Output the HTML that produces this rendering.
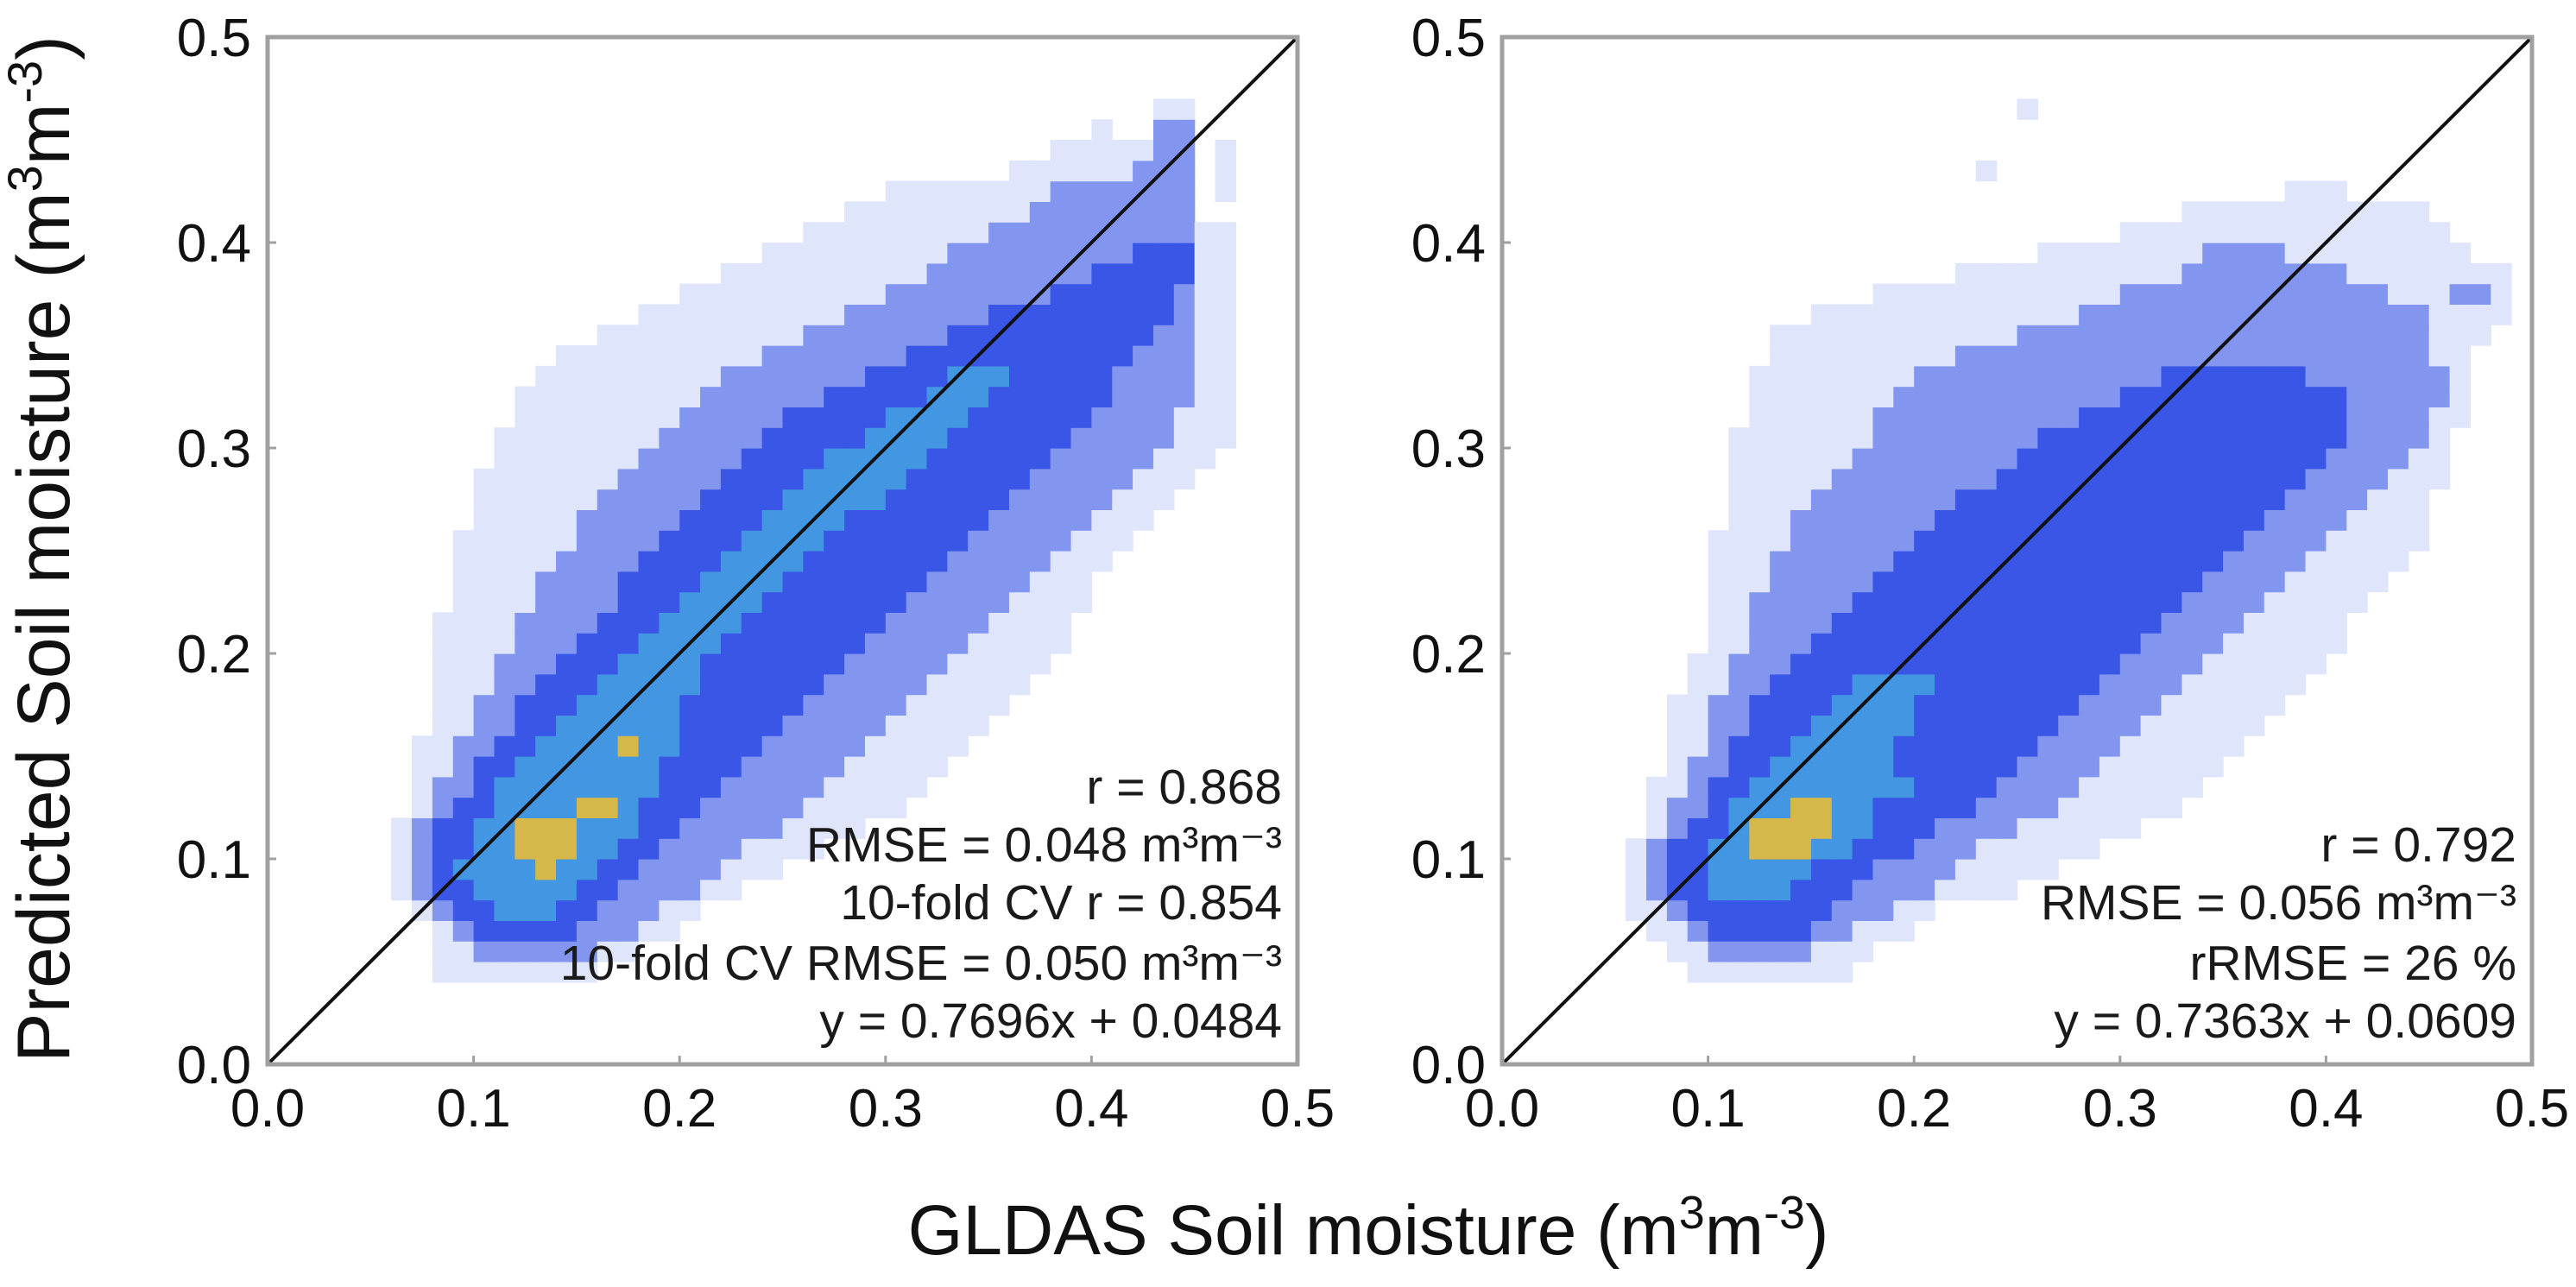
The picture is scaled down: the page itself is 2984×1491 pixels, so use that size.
<!DOCTYPE html>
<html><head><meta charset="utf-8"><style>
html,body{margin:0;padding:0;background:#fff;}
svg{display:block;font-family:"Liberation Sans",Arial,sans-serif;}
</style></head><body>
<svg id="fig" width="2984" height="1491" viewBox="0 0 2984 1491">
<rect width="2984" height="1491" fill="#fff"/>
<g id="panels"></g>
<text x="80" y="636" transform="rotate(-90 80 636)" text-anchor="middle" font-size="86" fill="#111">Predicted Soil moisture (m<tspan font-size="56" dy="-32">3</tspan><tspan dy="32">m</tspan><tspan font-size="56" dy="-32">-3</tspan><tspan dy="32">)</tspan></text>
<text x="1585" y="1453" text-anchor="middle" font-size="82" fill="#111">GLDAS Soil moisture (m<tspan font-size="54" dy="-30">3</tspan><tspan dy="30">m</tspan><tspan font-size="54" dy="-30">-3</tspan><tspan dy="30">)</tspan></text>
</svg>
<script>
// ---- data ----
const tickValues = [0.0, 0.1, 0.2, 0.3, 0.4, 0.5];
const tickLabels = ["0.0", "0.1", "0.2", "0.3", "0.4", "0.5"];
const densityColors = ["none", "#dfe5fa", "#8296ef", "#3a56e6", "#4296e2", "#d6b84a"];
// density rows: y-bin index (0.01 units) -> segments "x0-x1:level" (x bins of 0.01)
const leftDensity = {
 46:"43-44:1",45:"40:1,43-44:2",44:"38-42:1,46:1,43-44:2",43:"36-44:1,46:1,42-44:2",
 42:"30-44:1,46:1,38-44:2",41:"28-44:1,37-44:2",40:"26-46:1,35-44:2",
 39:"24-46:1,33-44:2,42-44:3",38:"22-46:1,32-44:2,40-44:3",37:"20-46:1,30-44:2,38-43:3",
 36:"18-46:1,28-44:2,35-43:3",35:"16-46:1,26-44:2,33-42:3",34:"14-46:1,24-44:2,31-41:3",
 33:"13-46:1,22-44:2,29-40:3,33-35:4",32:"12-46:1,21-44:2,27-40:3,32-34:4",
 31:"12-46:1,20-43:2,25-39:3,30-33:4",30:"11-46:1,19-43:2,24-38:3,29-32:4",
 29:"11-45:1,18-42:2,23-37:3,27-31:4",28:"10-44:1,17-41:2,22-36:3,26-30:4",
 27:"10-43:1,16-40:2,21-35:3,25-29:4",26:"10-42:1,15-39:2,20-34:3,24-27:4",
 25:"9-41:1,15-38:2,19-33:3,23-26:4",24:"9-40:1,14-37:2,18-32:3,22-25:4",
 23:"9-39:1,13-36:2,17-31:3,21-24:4",22:"9-39:1,13-35:2,17-30:3,20-23:4",
 21:"8-38:1,12-34:2,16-29:3,19-22:4",20:"8-38:1,12-33:2,15-28:3,18-21:4",
 19:"8-37:1,11-32:2,14-27:3,17-20:4",18:"8-36:1,11-31:2,13-26:3,16-20:4",
 17:"8-35:1,10-30:2,12-25:3,15-19:4",16:"8-34:1,10-29:2,12-24:3,14-19:4",
 15:"7-33:1,9-28:2,11-23:3,13-19:4,17:5",14:"7-32:1,9-27:2,10-22:3,12-18:4",
 13:"7-31:1,8-26:2,10-21:3,11-18:4",12:"7-30:1,8-25:2,9-20:3,11-17:4,15-16:5",
 11:"6-28:1,7-24:2,8-19:3,10-17:4,12-14:5",10:"6-26:1,7-22:2,8-18:3,10-16:4,12-14:5",
 9:"6-24:1,7-21:2,8-17:3,9-15:4,13:5",8:"6-22:1,7-20:2,8-16:3,10-14:4",
 7:"7-20:1,8-18:2,9-15:3,11-13:4",6:"8-19:1,9-17:2,10-14:3",5:"8-17:1,10-15:2",4:"8-15:1"
};
const rightDensity = {
 46:"25:1",43:"23:1",42:"38-40:1",41:"33-44:1",40:"30-45:1",39:"26-46:1,34-37:2",
 38:"22-48:1,33-40:2",37:"18-48:1,30-42:2,46-47:2",36:"15-48:1,28-44:2",
 35:"13-47:1,25-44:2",34:"13-46:1,22-44:2",33:"12-46:1,20-45:2,32-38:3",
 32:"12-46:1,19-45:2,30-40:3",31:"12-46:1,18-44:2,28-40:3",
 30:"11-45:1,18-44:2,26-40:3",29:"11-45:1,17-43:2,25-39:3",
 28:"11-45:1,16-42:2,24-38:3",27:"11-44:1,15-41:2,22-37:3",
 26:"11-44:1,14-40:2,21-36:3",25:"10-44:1,14-39:2,20-35:3",
 24:"10-43:1,13-38:2,19-34:3",23:"10-42:1,13-37:2,18-33:3",
 22:"10-41:1,12-36:2,17-32:3",21:"10-40:1,12-35:2,16-31:3",20:"10-40:1,12-34:2,15-30:3",
 19:"9-39:1,11-33:2,14-29:3",18:"9-38:1,11-32:2,13-28:3,17-20:4",
 17:"8-37:1,10-31:2,12-27:3,16-19:4",16:"8-36:1,10-30:2,12-26:3,15-19:4",
 15:"8-35:1,10-29:2,11-25:3,14-18:4",14:"8-34:1,9-28:2,11-24:3,13-18:4",
 13:"7-33:1,9-27:2,10-23:3,12-17:4,18-19:4",12:"7-32:1,8-26:2,10-22:3,11-17:4,14-15:5",
 11:"7-30:1,8-24:2,9-20:3,11-17:4,12-15:5",10:"6-28:1,7-22:2,8-19:3,10-16:4,12-14:5",
 9:"6-26:1,7-21:2,8-17:3,10-14:4",8:"6-24:1,7-20:2,8-16:3,10-13:4",
 7:"6-20:1,8-18:2,9-15:3",6:"7-19:1,9-16:2,10-14:3",5:"8-17:1,10-14:2",4:"9-16:1"
};
const leftStats = ["r = 0.868", "RMSE = 0.048 m³m⁻³", "10-fold CV r = 0.854", "10-fold CV RMSE = 0.050 m³m⁻³", "y = 0.7696x + 0.0484"];
const rightStats = ["r = 0.792", "RMSE = 0.056 m³m⁻³", "rRMSE = 26 %", "y = 0.7363x + 0.0609"];

// ---- drawing ----
const NS = "http://www.w3.org/2000/svg";
const panelsG = document.getElementById("panels");
function mk(tag, attrs, parent) {
  const e = document.createElementNS(NS, tag);
  for (const k in attrs) e.setAttribute(k, attrs[k]);
  parent.appendChild(e);
  return e;
}
function drawPanel(name, left, density, stats) {
  const top = 43, size = 1193, bottom = top + 1190, right = left + size;
  const xs = v => left + v / 0.5 * (right - left);
  const ys = v => bottom - v / 0.5 * (bottom - top);
  const g = mk("g", {}, panelsG);
  
  
  const cells = mk("g", {}, g);
  
  
  for (const key in density) {
    const yb = +key;
    const grid = {};
    density[key].split(",").forEach(seg => {
      const [rng, lv] = seg.split(":");
      const p = rng.split("-").map(Number);
      const a = p[0], b = p.length > 1 ? p[1] : p[0];
      for (let c = a; c <= b; c++) grid[c] = +lv;
    });
    for (const c in grid) {
      const x0 = xs(+c * 0.01), x1 = xs((+c + 1) * 0.01);
      const y0 = ys((yb + 1) * 0.01), y1 = ys(yb * 0.01);
      const r = mk("rect", {x: x0, y: y0, width: x1 - x0 + 0.6, height: y1 - y0 + 0.6, fill: densityColors[grid[c]]}, cells);
      
      
    }
  }
  const ln = mk("line", {x1: xs(0), y1: ys(0), x2: xs(0.5), y2: ys(0.5), stroke: "#111", "stroke-width": 4}, g);
  
  
  const fr = mk("rect", {x: left, y: top, width: right - left, height: bottom - top, fill: "none", stroke: "#a0a0a0", "stroke-width": 5}, g);
  
  
  tickValues.forEach((v, i) => {
    const tx = mk("line", {x1: xs(v), y1: bottom, x2: xs(v), y2: bottom - 10, stroke: "#a0a0a0", "stroke-width": 3}, g);
    
    
    const ty = mk("line", {x1: left, y1: ys(v), x2: left + 10, y2: ys(v), stroke: "#a0a0a0", "stroke-width": 3}, g);
    
    
    const lx = mk("text", {x: xs(v), y: 1305, "text-anchor": "middle", "font-size": 62, fill: "#111"}, g);
    lx.textContent = tickLabels[i];
    
    
    const ly = mk("text", {x: left - 19, y: ys(v) + 22, "text-anchor": "end", "font-size": 62, fill: "#111"}, g);
    ly.textContent = tickLabels[i];
    
    
  });
  const baselines = [931, 998, 1065, 1135, 1202];
  const off = 5 - stats.length;
  stats.forEach((s, i) => {
    const t = mk("text", {x: right - 18, y: baselines[i + off], "text-anchor": "end", "font-size": 57, fill: "#1a1a1a"}, g);
    t.textContent = s;
    
    
  });
}
drawPanel("left-panel", 310, leftDensity, leftStats);
drawPanel("right-panel", 1740, rightDensity, rightStats);
</script>
</body></html>
